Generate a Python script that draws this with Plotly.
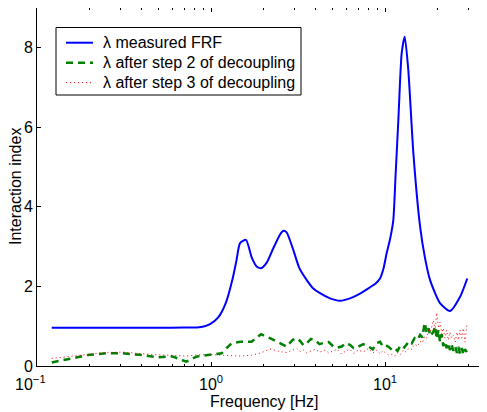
import plotly.graph_objects as go

# ---- data ----
blue_f = [0.1215, 0.2, 0.3, 0.5, 0.7, 0.828, 0.92, 0.987, 1.10, 1.215, 1.332, 1.40, 1.468,
          1.589, 1.713, 1.83, 1.937, 2.09, 2.28, 2.49, 2.60, 2.72, 2.97, 3.22, 3.55,
          3.87, 4.23, 4.83, 5.51, 6.29, 7.18, 8.2, 8.8, 9.36, 9.8, 10.2, 10.7, 11.16, 11.5, 11.93,
          12.47, 12.98, 13.6, 14.55, 15.9, 17.0, 18.15, 20.7, 23.6, 27.0, 29.7]
blue_v = [0.96, 0.96, 0.96, 0.96, 0.965, 0.97, 1.0, 1.05, 1.22, 1.58, 2.2, 2.65, 3.09,
          3.17, 2.73, 2.5, 2.46, 2.6, 2.96, 3.30, 3.40, 3.36, 2.92, 2.46, 2.16,
          1.95, 1.83, 1.70, 1.64, 1.70, 1.82, 1.98, 2.07, 2.2, 2.45, 2.82, 3.2, 3.67, 4.8, 6.19,
          7.87, 8.28, 7.45, 5.35, 3.51, 2.7, 2.16, 1.58, 1.38, 1.74, 2.2]

noisy_f = [0.1215, 0.16, 0.2, 0.25, 0.31, 0.39, 0.49, 0.6, 0.72, 0.83, 0.99, 1.15, 1.31,
           1.47, 1.71, 1.94, 2.18, 2.49, 2.72, 2.95, 3.11, 3.25, 3.4, 3.55, 3.75, 3.96,
           4.2, 4.52, 4.75, 5.05, 5.3, 5.64, 5.95, 6.29, 6.6, 7.03, 7.5, 8.02, 8.5, 9.0,
           9.36, 9.7, 10.0, 10.5, 11.0, 11.4, 11.8, 12.2, 12.74, 13.2, 13.7, 14.23, 14.8,
           15.4, 15.9, 16.4, 16.9, 17.37, 17.8, 18.2, 18.96, 19.4, 19.8, 20.3, 20.7, 21.2,
           21.6, 22.1, 22.6, 23.1, 23.6, 24.1, 24.7, 25.3, 25.9, 26.4, 27.0, 27.6, 28.2,
           28.8, 29.5]
green_v = [0.09, 0.19, 0.28, 0.32, 0.32, 0.28, 0.22, 0.24, 0.11, 0.24, 0.29, 0.32, 0.57,
           0.61, 0.61, 0.80, 0.70, 0.57, 0.49, 0.66, 0.70, 0.63, 0.52, 0.57, 0.68, 0.65,
           0.55, 0.59, 0.60, 0.49, 0.46, 0.49, 0.58, 0.53, 0.45, 0.49, 0.55, 0.49, 0.42, 0.58,
           0.61, 0.50, 0.53, 0.48, 0.40, 0.44, 0.38, 0.50, 0.44, 0.52, 0.62, 0.57, 0.70,
           0.66, 0.78, 0.72, 1.09, 0.82, 0.95, 0.75, 0.86, 1.00, 0.68, 0.91, 0.60, 0.80,
           0.50, 0.62, 0.45, 0.58, 0.40, 0.55, 0.38, 0.50, 0.33, 0.48, 0.30, 0.45, 0.28,
           0.42, 0.35]
red_v = [0.19, 0.25, 0.30, 0.34, 0.35, 0.31, 0.28, 0.27, 0.25, 0.28, 0.29, 0.27, 0.25,
         0.25, 0.27, 0.33, 0.43, 0.36, 0.34, 0.40, 0.44, 0.36, 0.40, 0.33, 0.38, 0.42,
         0.35, 0.40, 0.33, 0.37, 0.42, 0.30, 0.38, 0.42, 0.32, 0.40, 0.35, 0.44, 0.33, 0.40,
         0.30, 0.38, 0.33, 0.27, 0.30, 0.25, 0.33, 0.28, 0.40, 0.35, 0.45, 0.42, 0.55,
         0.50, 0.62, 0.58, 0.75, 0.70, 0.95, 0.85, 1.15, 0.90, 1.34, 0.95, 1.10, 0.80,
         0.95, 0.70, 0.90, 0.65, 0.85, 0.70, 0.77, 0.60, 0.85, 0.65, 0.90, 0.70, 0.95,
         0.60, 1.02]

names = ["λ measured FRF", "λ after step 2 of decoupling", "λ after step 3 of decoupling"]
colors = ["#0000FF", "#008000", "#FF0000"]
dashes = ["solid", "7px,5px", "1px,3px"]
widths = [2, 2.5, 1]

x_major = [0.1, 1, 10]
x_major_text = ["10<sup>−1</sup>\u00a0\u00a0\u00a0", "10<sup>0</sup>", "10<sup>1</sup>"]
x_minor = [m * d for d in (0.1, 1, 10) for m in range(2, 10) if m * d <= 38]
y_ticks = [0, 2, 4, 6, 8]

FONT = "Liberation Sans, Arial, Helvetica, sans-serif"

# The page body adds an 8px offset, so the figure is laid out in page coords minus 8.
OFF = 8
FW, FH = 487 - OFF, 412 - OFF
# plot-area geometry in page pixels
L, T, W, H = 37, 8, 450, 358


def px(xp):
    return (xp - L) / W


def py(yp):
    return (T + H - yp) / H


fig = go.Figure()
fig.add_trace(go.Scatter(x=blue_f, y=blue_v, mode="lines", name=names[0], showlegend=False,
                         line=dict(color=colors[0], width=widths[0], shape="spline", smoothing=0.6)))
fig.add_trace(go.Scatter(x=noisy_f, y=green_v, mode="lines", name=names[1], showlegend=False,
                         line=dict(color=colors[1], width=widths[1], dash=dashes[1])))
fig.add_trace(go.Scatter(x=noisy_f, y=red_v, mode="lines", name=names[2], showlegend=False,
                         line=dict(color=colors[2], width=widths[2], dash=dashes[2])))

shapes = [dict(type="rect", xref="paper", yref="paper",
               x0=px(56), x1=px(301), y0=py(95), y1=py(27.5),
               line=dict(color="black", width=1), fillcolor="white", layer="above")]
annotations = []
row_y = [42.7, 62.7, 82.7]
for i, name in enumerate(names):
    shapes.append(dict(type="line", xref="paper", yref="paper",
                       x0=px(66), x1=px(93), y0=py(row_y[i]), y1=py(row_y[i]),
                       line=dict(color=colors[i], width=widths[i], dash=dashes[i]),
                       layer="above"))
    annotations.append(dict(text=name, xref="paper", yref="paper",
                            x=px(101), y=py(row_y[i]), xanchor="left", yanchor="middle",
                            showarrow=False, font=dict(family=FONT, size=16, color="black")))

annotations.append(dict(text="Frequency [Hz]", xref="paper", yref="paper",
                        x=px(264), y=py(391), xanchor="center", yanchor="top",
                        showarrow=False, font=dict(family=FONT, size=16, color="black")))
annotations.append(dict(text="Interaction index", xref="paper", yref="paper",
                        x=px(15), y=0.5, xanchor="center", yanchor="middle", textangle=-90,
                        showarrow=False, font=dict(family=FONT, size=16, color="black")))

fig.update_layout(
    width=FW, height=FH,
    margin=dict(l=L - OFF, r=FW - (L - OFF) - W, t=T - OFF, b=FH - (T - OFF) - H,
                autoexpand=False),
    paper_bgcolor="white", plot_bgcolor="white",
    font=dict(family=FONT, size=16, color="black"),
    showlegend=False,
    shapes=shapes,
    annotations=annotations,
    hovermode=False,
)
fig.update_xaxes(
    type="log", range=[-1, 1.586], automargin=False,
    tickmode="array", tickvals=x_major, ticktext=x_major_text,
    ticks="inside", ticklen=4, tickwidth=1, tickcolor="black",
    minor=dict(tickmode="array", tickvals=x_minor, ticks="inside", ticklen=2,
               tickwidth=1, tickcolor="black"),
    showline=True, linecolor="black", linewidth=1, mirror="allticks",
    showgrid=False, zeroline=False, ticklabelstandoff=4,
    tickfont=dict(family=FONT, size=16, color="black"),
)
fig.update_yaxes(
    range=[0, 9], automargin=False,
    tickmode="array", tickvals=y_ticks,
    ticks="inside", ticklen=4, tickwidth=1, tickcolor="black",
    showline=True, linecolor="black", linewidth=1, mirror="allticks",
    showgrid=False, zeroline=False,
    tickfont=dict(family=FONT, size=16, color="black"),
)

fig.write_html("out.html")
